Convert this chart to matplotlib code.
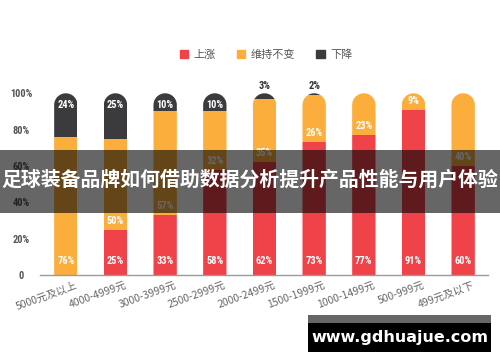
import numpy as np
import matplotlib.pyplot as plt
from matplotlib import font_manager as fm
from matplotlib import transforms
from matplotlib.path import Path
from matplotlib.patches import PathPatch, Patch, Rectangle

categories = ['5000元及以上', '4000-4999元', '3000-3999元', '2500-2999元', '2000-2499元',
              '1500-1999元', '1000-1499元', '500-999元', '499元及以下']
rise = [0, 25, 33, 58, 62, 73, 77, 91, 60]
flat = [76, 50, 57, 32, 35, 26, 23, 9, 40]
fall = [24, 25, 10, 10, 3, 2, 0, 0, 0]
series_names = ['上涨', '维持不变', '下降']
yticks = [0, 20, 40, 60, 80, 100]
ytick_labels = ['0', '20%', '40%', '60%', '80%', '100%']
title = '足球装备品牌如何借助数据分析提升产品性能与用户体验'
watermark = 'www.gdhuajue.com'

RED = '#EF4249'
ORANGE = '#FBAE3C'
DARK = '#3B3B3D'

names = {f.name for f in fm.fontManager.ttflist}
num_font = 'DejaVu Sans'
for cand in ['Roboto Condensed', 'Liberation Sans Narrow', 'Roboto']:
    if cand in names:
        num_font = cand
        break
cjk = ['Noto Sans CJK SC', 'DejaVu Sans']

fig = plt.figure(figsize=(5, 3.62), dpi=100)
ax = fig.add_axes([0.08, 0.24, 0.896, 0.5525])
ax.set_xlim(-0.52, 8.5)
ax.set_ylim(0, 110)

x = np.arange(len(categories))
w = 0.47
hw = w / 2

# rounded top: radius in pixels -> data units on y
p0 = ax.transData.transform((0, 0))
p1 = ax.transData.transform((hw, 1))
ry = (p1[0] - p0[0]) / (p1[1] - p0[1])

rise_a = np.array(rise)
flat_a = np.array(flat)
fall_a = np.array(fall)
b1 = ax.bar(x, rise_a, w, color=RED, linewidth=0)
b2 = ax.bar(x, flat_a, w, bottom=rise_a, color=ORANGE, linewidth=0)
b3 = ax.bar(x, fall_a, w, bottom=rise_a + flat_a, color=DARK, linewidth=0)

theta = np.linspace(0, np.pi, 50)
for i, xi in enumerate(x):
    verts = [(xi - hw, 0), (xi + hw, 0)]
    verts += list(zip(xi + hw * np.cos(theta), (100 - ry) + ry * np.sin(theta)))
    verts.append((xi - hw, 0))
    codes = [Path.MOVETO] + [Path.LINETO] * (len(verts) - 2) + [Path.CLOSEPOLY]
    clip = PathPatch(Path(verts, codes), transform=ax.transData)
    for b in (b1[i], b2[i], b3[i]):
        b.set_clip_path(clip)

lab = dict(fontfamily=num_font, fontweight='bold', fontstretch='condensed',
           fontsize=7.5, ha='center', va='center')
for i, xi in enumerate(x):
    if rise[i] > 0:
        ax.text(xi, 8, f'{rise[i]}%', color='white', **lab)
        ax.text(xi, rise[i] + 5, f'{flat[i]}%', color='white', **lab)
    else:
        ax.text(xi, 8, f'{flat[i]}%', color='white', **lab)
    if fall[i] >= 10:
        ax.text(xi, 93.5, f'{fall[i]}%', color='white', **lab)
    elif fall[i] > 0:
        ax.text(xi, 104, f'{fall[i]}%', color='#333333', **lab)

for s in ['top', 'right', 'left']:
    ax.spines[s].set_visible(False)
ax.spines['bottom'].set_color('#9a9a9a')
ax.spines['bottom'].set_linewidth(1)

ax.set_yticks(yticks, ytick_labels)
ax.tick_params(axis='y', length=0, pad=13.5, labelcolor='#555555')
for t in ax.get_yticklabels():
    t.set_ha('center')
    t.set_fontfamily(num_font)
    t.set_fontweight('bold')
    t.set_fontstretch('condensed')
    t.set_fontsize(7.5)

ax.set_xticks(x, categories)
ax.tick_params(axis='x', length=0, pad=3.5, labelcolor='#666666')
offset = transforms.ScaledTranslation(0.09, 0, fig.dpi_scale_trans)
for t in ax.get_xticklabels():
    t.set_rotation(20)
    t.set_ha('right')
    t.set_rotation_mode('anchor')
    t.set_fontfamily(cjk)
    t.set_fontsize(7.5)
    t.set_transform(t.get_transform() + offset)

handles = [Patch(color=c) for c in (RED, ORANGE, DARK)]
fig.legend(handles, series_names, loc='center', bbox_to_anchor=(0.532, 0.848), ncol=3,
           frameon=False, handlelength=0.75, handleheight=0.75, handletextpad=0.5,
           columnspacing=1.9, prop={'family': cjk, 'size': 8}, labelcolor='#555555')

# title banner
fig.add_artist(Rectangle((0, 0.4116), 1, 0.174, transform=fig.transFigure,
                         color='black', alpha=0.6, linewidth=0, zorder=5))
fig.text(0.5, 0.505, title, color='white', fontsize=14.3, fontweight='bold',
         family=cjk, ha='center', va='center', zorder=6)

# watermark
fig.add_artist(Rectangle((0.616, 0.1077), 0.366, 0.0221, transform=fig.transFigure,
                         color='#666666', linewidth=0, zorder=5))
fig.add_artist(Rectangle((0.616, 0.0276), 0.366, 0.0801, transform=fig.transFigure,
                         color='black', linewidth=0, zorder=5))
fig.text(0.799, 0.0677, watermark, color='white', fontsize=11.5, fontweight='bold',
         family='DejaVu Sans', ha='center', va='center', zorder=6)

fig.savefig('out.png', dpi=100)
